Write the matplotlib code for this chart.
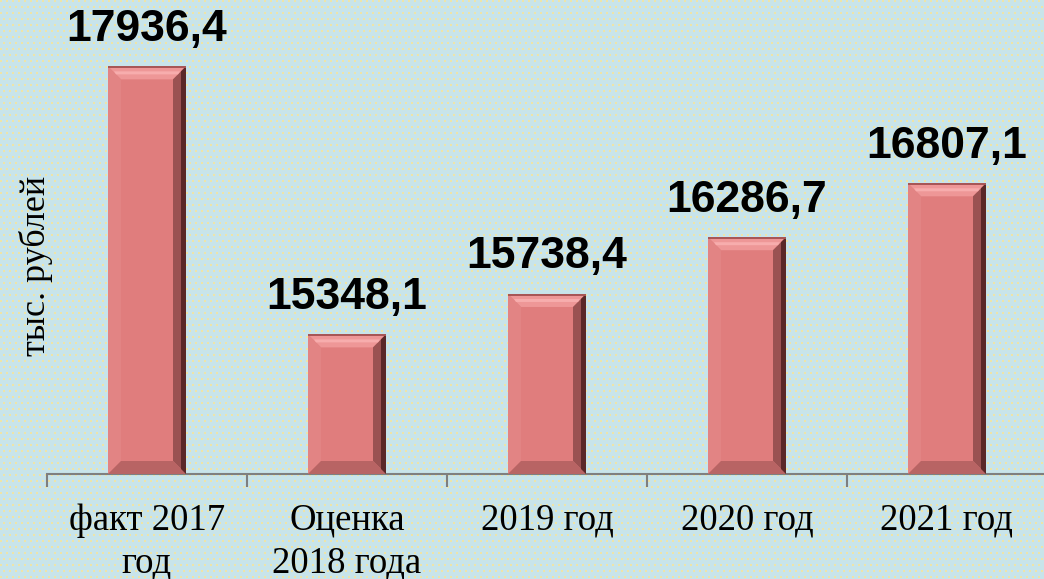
import numpy as np
import matplotlib
matplotlib.use("Agg")
import matplotlib.pyplot as plt
from matplotlib.patches import Polygon

# data
categories = ["факт 2017\nгод", "Оценка\n2018 года", "2019 год", "2020 год", "2021 год"]
values = [17936.4, 15348.1, 15738.4, 16286.7, 16807.1]
value_labels = ["17936,4", "15348,1", "15738,4", "16286,7", "16807,1"]

W, H = 1044, 579
fig = plt.figure(figsize=(W / 100, H / 100), dpi=100)

# dotted background texture
bg = np.zeros((H, W, 3))
bg[:] = np.array([200, 228, 234]) / 255.0
yy, xx = np.mgrid[0:H, 0:W]
dots = ((yy % 6) < 2) & (((xx + 3 * ((yy // 6) % 2)) % 6) < 2)
bg[dots] = np.array([238, 228, 168]) / 255.0
fig.figimage(bg, 0, 0, zorder=-10)

ax = fig.add_axes([47 / W, 1 - 474 / H, 1000 / W, 466 / H])
ax.patch.set_visible(False)

x = np.arange(len(values))
bw = 0.39
face = "#e07d7d"
bars = ax.bar(x, values, width=bw, color=face, edgecolor="none", zorder=2)
ax.set_xlim(-0.5, len(values) - 0.5)
ax.set_ylim(14000, 18500)

# bevel edges drawn in pixel space around each bar
bev = 13
for b in bars:
    (x0, y0), (x1, y1) = ax.transData.transform(
        [(b.get_x(), 14000), (b.get_x() + b.get_width(), b.get_height())])
    sides = [
        ([(x0, y1), (x1, y1), (x1 - bev, y1 - bev), (x0 + bev, y1 - bev)], "#ee9797"),
        ([(x0, y0), (x0, y1), (x0 + bev, y1 - bev), (x0 + bev, y0 + bev)], "#e28484"),
        ([(x1, y0), (x1, y1), (x1 - bev, y1 - bev), (x1 - bev, y0 + bev)], "#9a5252"),
        ([(x0, y0), (x1, y0), (x1 - bev, y0 + bev), (x0 + bev, y0 + bev)], "#b86464"),
    ]
    for pts, c in sides:
        fig.patches.append(Polygon(pts, closed=True, transform=None, facecolor=c,
                                   edgecolor="none", zorder=3, figure=fig))
    # darker outer strip on the right side
    fig.patches.append(Polygon([(x1 - 5, y0 + 5), (x1, y0), (x1, y1), (x1 - 5, y1 - 5)],
                               closed=True, transform=None, facecolor="#5a2828",
                               edgecolor="none", zorder=3, figure=fig))
    # highlight line in the top bevel
    fig.patches.append(Polygon([(x0 + 6, y1 - 5), (x1 - 6, y1 - 5), (x1 - 8, y1 - 8), (x0 + 8, y1 - 8)],
                               closed=True, transform=None, facecolor="#f7adad",
                               edgecolor="none", zorder=3, figure=fig))
    fig.patches.append(Polygon([(x0, y1), (x1, y1), (x1, y1 - 2), (x0, y1 - 2)],
                               closed=True, transform=None, facecolor="#a85656",
                               edgecolor="none", zorder=3, figure=fig))

for xi, v, lab in zip(x, values, value_labels):
    ax.annotate(lab, (xi, v), xytext=(0, 12), textcoords="offset points",
                ha="center", va="bottom", fontsize=32, fontweight="bold",
                family="Liberation Sans", color="black", annotation_clip=False)

for s in ["top", "right", "left"]:
    ax.spines[s].set_visible(False)
ax.spines["bottom"].set_color("#7f7f7f")
ax.spines["bottom"].set_linewidth(1.5)
ax.set_yticks([])
ax.set_xticks(x)
ax.set_xticklabels(categories, family="Liberation Serif", fontsize=26.5, linespacing=1.32)
ax.tick_params(axis="x", which="major", length=0, pad=21)
ax.set_xticks(np.arange(len(values) + 1) - 0.5, minor=True)
ax.tick_params(axis="x", which="minor", length=9, width=1.5, color="#7f7f7f")

fig.text(36 / W, 1 - 266 / H, "тыс. рублей", rotation=90, ha="center", va="center",
         family="Liberation Serif", fontsize=26)

fig.savefig("out.png", dpi=100)
